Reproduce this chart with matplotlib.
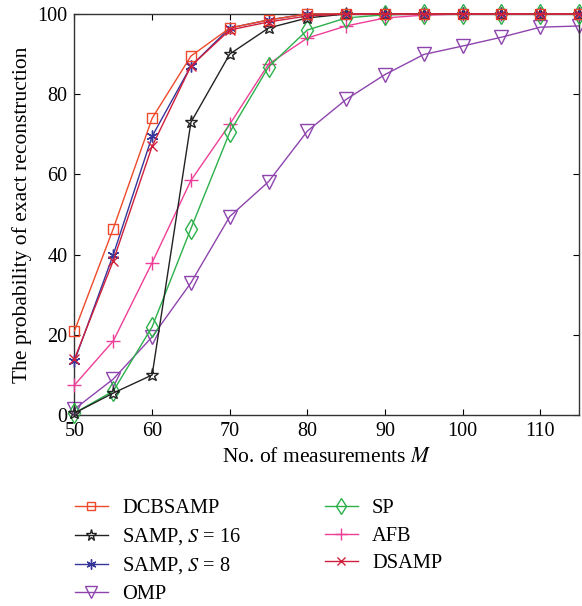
import matplotlib
matplotlib.use("Agg")
import matplotlib.pyplot as plt

plt.rcParams['font.family'] = ['Liberation Serif', 'DejaVu Serif']
plt.rcParams['mathtext.fontset'] = 'stix'

M = [50, 55, 60, 65, 70, 75, 80, 85, 90, 95, 100, 105, 110, 115]
dcbsamp = [21, 46.5, 74, 89.5, 96.5, 98.5, 100, 100, 100, 100, 100, 100, 100, 100]
samp16 = [0.5, 5.5, 10, 73, 90, 96.5, 99, 100, 100, 100, 100, 100, 100, 100]
samp8 = [13.5, 40, 69.5, 87, 96.5, 98.5, 100, 100, 100, 100, 100, 100, 100, 100]
omp = [1.5, 9, 19.5, 33, 49.5, 58.2, 70.8, 78.7, 84.9, 89.9, 92, 94.2, 96.7, 97]
sp = [0.5, 6, 22, 46.5, 70.5, 86.8, 96, 99, 99.8, 100, 100, 100, 100, 100]
afb = [7.5, 18.5, 38, 58.5, 72.5, 87.5, 94, 97, 99, 99.7, 100, 100, 100, 100]
dsamp = [14, 38.5, 67, 87, 96, 98, 99.5, 100, 100, 100, 100, 100, 100, 100]

xticks = [50, 60, 70, 80, 90, 100, 110]
yticks = [0, 20, 40, 60, 80, 100]

fig = plt.figure(figsize=(5.82, 6.06), dpi=100)
ax = fig.add_axes([0.128, 0.315, 0.867, 0.662])

lw = 1.0
series = [
    (dcbsamp, '#ee4a2a', 's', 'DCBSAMP', 7),
    (samp16, '#222222', '*', 'SAMP, $S$ = 16', 9.5),
    (samp8, '#35359a', (6, 2, 0), 'SAMP, $S$ = 8', 8.5),
    (omp, '#8e44ad', 'v', 'OMP', 10),
    (sp, '#2bb04a', 'd', 'SP', 10),
    (afb, '#ee3f98', '+', 'AFB', 10),
    (dsamp, '#cf1f3c', 'x', 'DSAMP', 7),
]
handles = {}
zorders = {'OMP': 2, 'AFB': 3, 'SP': 4, 'SAMP, $S$ = 16': 5, 'SAMP, $S$ = 8': 6, 'DCBSAMP': 7, 'DSAMP': 8}
for y, c, mk, lab, s in series:
    h, = ax.plot(M, y, color=c, marker=mk, markersize=s, markerfacecolor='none',
                 markeredgecolor=c, markeredgewidth=1.0, linewidth=lw, label=lab,
                 zorder=zorders[lab], clip_on=False)
    handles[lab] = h

ax.set_xlim(50, 115)
ax.set_ylim(0, 100)
ax.set_xticks(xticks)
ax.set_yticks(yticks)
ax.tick_params(direction='in', top=True, right=True, length=4.5, labelsize=14.5, pad=5)
for sp_ in ax.spines.values():
    sp_.set_color('#333333')
    sp_.set_linewidth(1.0)
ax.set_xlabel('No. of measurements $M$', fontsize=15.5, labelpad=5)
ax.set_ylabel('The probability of exact reconstruction', fontsize=15.5, labelpad=4)

order = ['DCBSAMP', 'SAMP, $S$ = 16', 'SAMP, $S$ = 8', 'OMP', 'SP', 'AFB', 'DSAMP']
leg = fig.legend([handles[k] for k in order], order, loc='upper left',
                 bbox_to_anchor=(0.115, 0.19), ncol=2, frameon=False, fontsize=14.7,
                 handlelength=1.6, handletextpad=0.7, columnspacing=4.1,
                 labelspacing=0.4, borderaxespad=0, markerscale=0.85)

fig.savefig('out.png', dpi=100)
